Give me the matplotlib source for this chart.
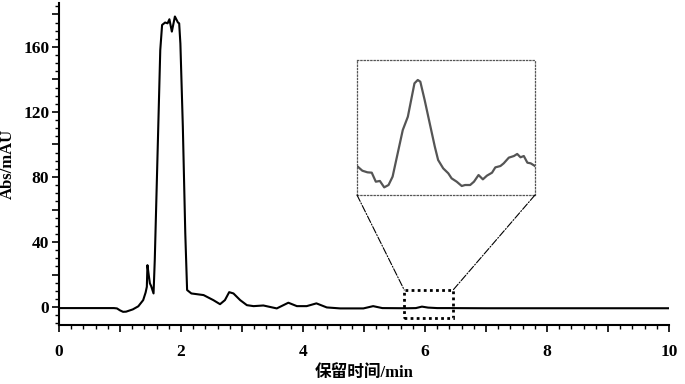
import numpy as np
import matplotlib
matplotlib.use('Agg')
import matplotlib.pyplot as plt
from matplotlib.ticker import MultipleLocator, FuncFormatter
from matplotlib.patches import Rectangle, ConnectionPatch

plt.rcParams['font.family'] = ['Liberation Serif', 'Noto Sans CJK SC']
plt.rcParams['font.weight'] = 'bold'

# chromatogram (min, mAU)
t = [0.0, 0.90, 0.95, 1.00, 1.05, 1.10, 1.21, 1.30, 1.38, 1.42, 1.44, 1.45, 1.47, 1.49,
     1.51, 1.55, 1.57, 1.61, 1.66, 1.69, 1.74, 1.78, 1.81, 1.85, 1.90, 1.95, 1.97,
     1.99, 2.03, 2.07, 2.10, 2.17, 2.37, 2.53, 2.64, 2.72, 2.79, 2.86, 2.97, 3.08,
     3.19, 3.35, 3.57, 3.76, 3.90, 4.06, 4.22, 4.39, 4.61, 4.99, 5.15, 5.30, 5.70,
     5.85, 5.95, 6.05, 6.20, 6.40, 7.0, 8.0, 9.0, 10.0]
absorb = [-0.6, -0.6, -0.8, -2.0, -2.9, -2.8, -1.4, 0.5, 4.3, 9.0, 12.5, 25.8, 20.0, 14.6,
          13.0, 8.4, 29.0, 86.0, 158.0, 173.5, 175.0, 174.5, 177.0, 169.4, 178.7, 175.0, 174.5,
          162.0, 111.0, 45.5, 10.5, 8.4, 7.4, 4.3, 1.8, 4.3, 9.2, 8.4, 4.3, 1.2,
          0.6, 1.0, -0.8, 2.7, 0.6, 0.6, 2.3, -0.2, -0.8, -0.8, 0.6, -0.6, -0.7,
          -0.6, 0.3, -0.3, -0.6, -0.6, -0.7, -0.7, -0.7, -0.7]

# zoomed region
t_zoom = [5.700, 5.721, 5.741, 5.758, 5.774, 5.790, 5.807, 5.824, 5.840, 5.860, 5.880,
          5.900, 5.913, 5.926, 5.939, 5.949, 5.966, 5.986, 6.006, 6.019, 6.039, 6.059,
          6.072, 6.092, 6.112, 6.125, 6.145, 6.160, 6.178, 6.195, 6.211, 6.231, 6.244,
          6.264, 6.277, 6.297, 6.317, 6.330, 6.343, 6.356, 6.370, 6.383, 6.400]
abs_zoom = [-0.178, -0.230, -0.248, -0.252, -0.352, -0.344, -0.415, -0.389, -0.296, -0.037, 0.222,
            0.370, 0.556, 0.741, 0.778, 0.759, 0.556, 0.296, 0.037, -0.111, -0.204, -0.259,
            -0.315, -0.352, -0.400, -0.389, -0.389, -0.352, -0.278, -0.326, -0.285, -0.252, -0.193,
            -0.178, -0.148, -0.085, -0.067, -0.044, -0.081, -0.067, -0.141, -0.148, -0.178]

fig = plt.figure(figsize=(6.85, 3.84), dpi=100)
ax = fig.add_axes([59/685, 1-325/384, 610/685, 322/384])
ax.plot(t, absorb, color='black', lw=1.5)
ax.set_xlim(0, 10)
ax.set_ylim(-11, 187)
for s in ['top', 'right']:
    ax.spines[s].set_visible(False)
for s in ['left', 'bottom']:
    ax.spines[s].set_linewidth(1.5)

ax.xaxis.set_major_locator(MultipleLocator(1))
ax.xaxis.set_minor_locator(MultipleLocator(0.2))
ax.yaxis.set_major_locator(MultipleLocator(20))
ax.yaxis.set_minor_locator(MultipleLocator(5))
ax.xaxis.set_major_formatter(FuncFormatter(lambda v, p: '%d' % v if round(v) % 2 == 0 else ''))
ax.yaxis.set_major_formatter(FuncFormatter(lambda v, p: '%d' % v if round(v) % 40 == 0 else ''))
ax.tick_params(which='major', direction='out', length=5, width=1.2, labelsize=12.5)
ax.tick_params(which='minor', direction='out', length=3, width=1.0)
ax.tick_params(axis='x', pad=9)
ax.tick_params(axis='y', pad=2)
for lab in ax.get_xticklabels() + ax.get_yticklabels():
    lab.set_fontweight('bold')

ax.set_xlabel('保留时间/min', fontsize=12, fontweight='bold', labelpad=3)
ax.set_ylabel('Abs/mAU', fontsize=12, fontweight='bold')
ax.yaxis.set_label_coords(-0.07, 0.5)

# dotted selection box
x0, x1, y0, y1 = 5.66, 6.46, -6.8, 10.5
ax.add_patch(Rectangle((x0, y0), x1 - x0, y1 - y0, fill=False, ls=(0, (1, 1.2)),
                       lw=2, ec='black'))

ins = fig.add_axes([357/685, 1-195/384, 178/685, 135/384])
ins.plot(t_zoom, abs_zoom, color='#555555', lw=1.6)
ins.set_xlim(5.7, 6.4)
ins.set_ylim(-0.5, 1.0)
ins.set_xticks([])
ins.set_yticks([])
for s in ins.spines.values():
    s.set_linestyle(':')
    s.set_color('#555555')
    s.set_linewidth(0.9)

for xa, xd in [(0, x0), (1, x1)]:
    con = ConnectionPatch(xyA=(xa, 0), coordsA=ins.transAxes, xyB=(xd, y1), coordsB=ax.transData,
                          ls='-.', lw=0.8, color='black')
    fig.add_artist(con)

fig.savefig('out.png', dpi=100)
